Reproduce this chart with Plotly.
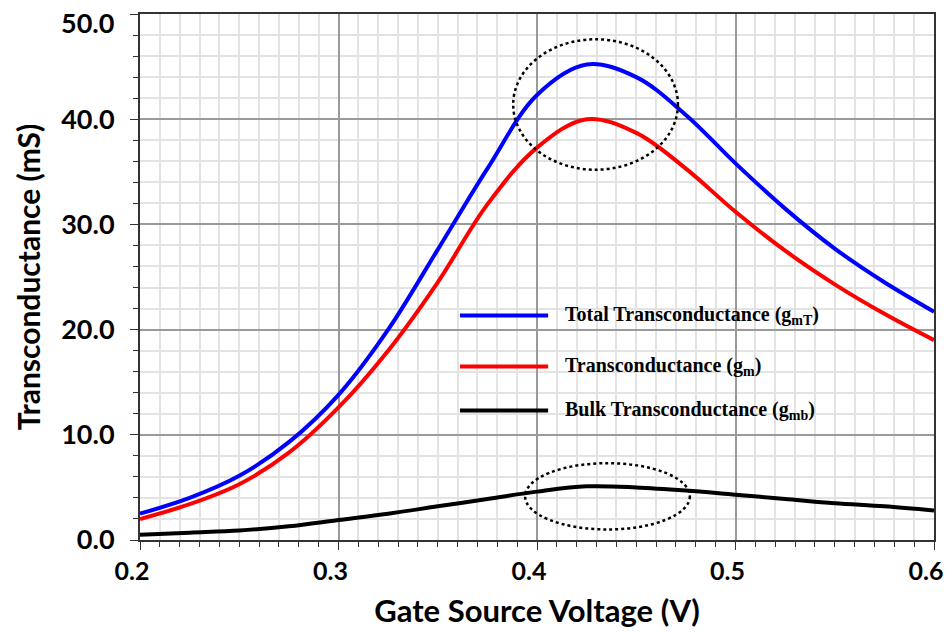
import plotly.graph_objects as go

vgs = [0.2, 0.225, 0.25, 0.275, 0.3, 0.325, 0.35, 0.375, 0.4, 0.425, 0.45, 0.475, 0.5, 0.525, 0.55, 0.575, 0.6]
gmT = [2.5, 4.0, 6.1, 9.3, 13.8, 20.0, 27.6, 35.3, 42.3, 45.2, 44.0, 40.4, 35.8, 31.5, 27.7, 24.5, 21.7]
gm = [2.0, 3.4, 5.3, 8.3, 12.6, 18.0, 24.5, 31.9, 37.3, 40.0, 38.7, 35.3, 31.2, 27.5, 24.3, 21.5, 19.0]
gmb = [0.5, 0.7, 0.9, 1.3, 1.9, 2.5, 3.2, 3.9, 4.6, 5.1, 5.0, 4.7, 4.3, 3.9, 3.5, 3.2, 2.8]

x_ticks = [0.2, 0.3, 0.4, 0.5, 0.6]
y_ticks = [0, 10, 20, 30, 40, 50]
y_ticktext = ["0.0", "10.0", "20.0", "30.0", "40.0", ""]
y_top_label = "50.0"

names = ["Total Transconductance (g<sub>mT</sub>)", "Transconductance (g<sub>m</sub>)",
         "Bulk Transconductance (g<sub>mb</sub>)"]
colors = ["#0000FF", "#FF0000", "#000000"]
series = [gmT, gm, gmb]

fig = go.Figure()
for ys, c, n in zip(series, colors, names):
    fig.add_trace(go.Scatter(x=vgs, y=ys, mode="lines", name=n,
                             line=dict(color=c, width=4, shape="spline", smoothing=1.0),
                             showlegend=False))

# dotted ellipses highlighting peaks
fig.add_shape(type="circle", xref="x", yref="y", x0=0.388, x1=0.471, y0=35.2, y1=47.6,
              line=dict(color="black", width=2.5, dash="dot"))
fig.add_shape(type="circle", xref="x", yref="y", x0=0.394, x1=0.477, y0=1.0, y1=7.3,
              line=dict(color="black", width=2.5, dash="dot"))

# manual legend
leg_y = [0.427, 0.33, 0.246]
for c, n, yy in zip(colors, names, leg_y):
    fig.add_shape(type="line", xref="paper", yref="paper", x0=0.403, x1=0.514, y0=yy, y1=yy,
                  line=dict(color=c, width=4))
    fig.add_annotation(xref="paper", yref="paper", x=0.533, y=yy, text=n, showarrow=False,
                       xanchor="left", yanchor="middle",
                       font=dict(family="Liberation Serif", size=20, color="black", weight="bold"))

# top y tick label (drawn slightly lower, as in the reference)
fig.add_annotation(xref="paper", yref="y", x=0, y=y_ticks[-1], text=y_top_label, showarrow=False,
                   xanchor="right", yanchor="top", xshift=-24, yshift=10,
                   font=dict(family="Lato", size=27, color="black", weight="bold"))

fig.update_xaxes(range=[0.2, 0.6], tickmode="array", tickvals=x_ticks, tickformat=".1f",
                 ticklabeloverflow="allow", automargin=False, ticklabelshift=-8,
                 showline=True, linecolor="#333",
                 linewidth=2, mirror=True, ticks="outside", ticklen=8, tickcolor="#333",
                 showgrid=True, gridcolor="#9a9a9a", gridwidth=1.5, zeroline=False,
                 tickfont=dict(family="Lato", size=25, color="black", weight="bold"),
                 minor=dict(dtick=0.01, showgrid=True, gridcolor="#e3e3e3", gridwidth=1.5,
                            ticks="outside", ticklen=5, tickcolor="#333"),
                 title=dict(text="Gate Source Voltage (V)",
                            font=dict(family="Lato", size=31, color="black", weight="bold"),
                            standoff=16))
fig.update_yaxes(range=[0, 50], tickmode="array", tickvals=y_ticks, ticktext=y_ticktext,
                 ticklabeloverflow="allow", ticklabelstandoff=10, automargin=False,
                 showline=True, linecolor="#333",
                 linewidth=2, mirror=True, ticks="outside", ticklen=8, tickcolor="#333",
                 showgrid=True, gridcolor="#9a9a9a", gridwidth=1.5, zeroline=False,
                 tickfont=dict(family="Lato", size=27, color="black", weight="bold"),
                 minor=dict(dtick=2, showgrid=True, gridcolor="#e3e3e3", gridwidth=1.5,
                            ticks="outside", ticklen=5, tickcolor="#333"),
                 title=dict(text="Transconductance (mS)",
                            font=dict(family="Lato", size=30, color="black", weight="bold"),
                            standoff=12))

fig.update_layout(width=949, height=633, margin=dict(l=140, r=15, t=14, b=93),
                  plot_bgcolor="white", paper_bgcolor="white")

fig.write_html("out.html")
